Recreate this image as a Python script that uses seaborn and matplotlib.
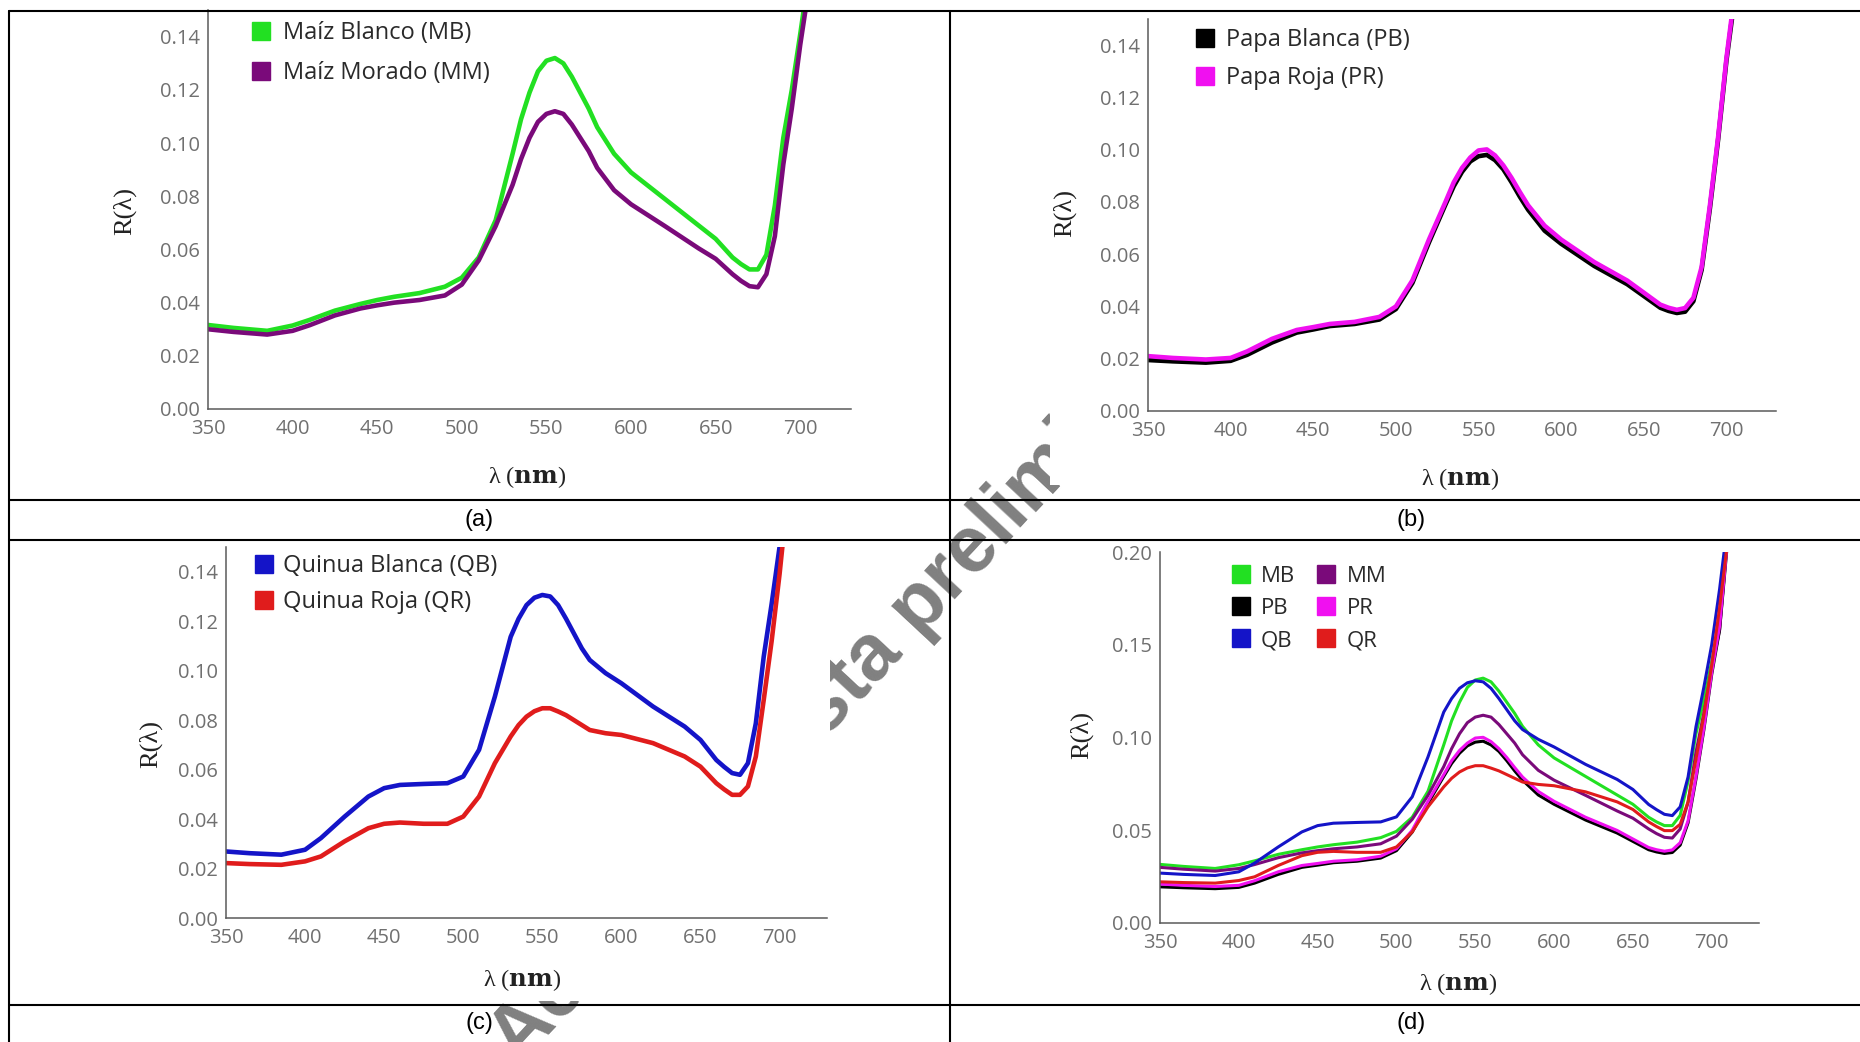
import numpy as np
import pandas as pd
import matplotlib
matplotlib.use("Agg")
import matplotlib.pyplot as plt
from matplotlib.lines import Line2D
from matplotlib.patches import Rectangle
from matplotlib.ticker import MultipleLocator, FormatStrFormatter
import seaborn as sns

sns.set_theme(style="white")
plt.rcParams['font.family'] = ['Open Sans', 'DejaVu Sans']
plt.rcParams['mathtext.fontset'] = 'dejavuserif'

# ---------------- data ----------------
wavelength = [350, 365, 385, 400, 410, 425, 440, 450, 460, 475, 490, 500, 510, 520,
              530, 535, 540, 545, 550, 555, 560, 565, 570, 575, 580, 590, 600, 620,
              640, 650, 660, 665, 670, 675, 680, 685, 690, 695, 700, 705, 710]

MB = [.0316, .0305, .0294, .0314, .0335, .0370, .0395, .0410, .0422, .0436, .0460, .0494,
      .0570, .0710, .0960, .1090, .1190, .1270, .1310, .1320, .1300, .1250, .1190, .1130,
      .1060, .0960, .0890, .0790, .0690, .0640, .0570, .0545, .0525, .0525, .0580, .0765,
      .1020, .1200, .1410, .1630, .2100]
MM = [.0300, .0290, .0280, .0294, .0315, .0352, .0378, .0390, .0400, .0410, .0427, .0468,
      .0559, .0688, .0843, .0940, .1020, .1080, .1110, .1120, .1110, .1070, .1020, .0970,
      .0907, .0823, .0770, .0688, .0604, .0565, .0507, .0482, .0462, .0458, .0507, .0650,
      .0920, .1130, .1370, .1580, .2080]
PB = [.0195, .0190, .0185, .0192, .0215, .0262, .0300, .0312, .0325, .0333, .0350, .0390,
      .0490, .0645, .0790, .0860, .0915, .0955, .0975, .0980, .0960, .0925, .0875, .0820,
      .0770, .0690, .0640, .0555, .0485, .0440, .0395, .0383, .0375, .0380, .0420, .0540,
      .0775, .1040, .1340, .1580, .2050]
PR = [.0210, .0203, .0197, .0203, .0228, .0276, .0310, .0321, .0333, .0341, .0360, .0400,
      .0500, .0656, .0800, .0875, .0930, .0970, .0997, .1001, .0978, .0940, .0892, .0838,
      .0787, .0709, .0656, .0570, .0499, .0453, .0407, .0395, .0387, .0394, .0433, .0551,
      .0787, .1050, .1350, .1600, .2060]
QB = [.0269, .0262, .0256, .0276, .0323, .0410, .0491, .0525, .0538, .0542, .0545, .0572,
      .0680, .0895, .1137, .1210, .1265, .1295, .1306, .1300, .1265, .1210, .1150, .1090,
      .1043, .0990, .0949, .0855, .0774, .0720, .0639, .0611, .0586, .0579, .0626, .0787,
      .1057, .1270, .1500, .1800, .2150]
QR = [.0222, .0218, .0215, .0229, .0249, .0310, .0363, .0381, .0386, .0381, .0381, .0410,
      .0491, .0626, .0734, .0780, .0814, .0836, .0848, .0848, .0835, .0820, .0800, .0780,
      .0760, .0747, .0740, .0707, .0653, .0612, .0545, .0520, .0498, .0498, .0532, .0653,
      .0882, .1120, .1390, .1700, .2050]

codes = ["MB", "MM", "PB", "PR", "QB", "QR"]
full_names = {"MB": "Maíz Blanco (MB)", "MM": "Maíz Morado (MM)",
              "PB": "Papa Blanca (PB)", "PR": "Papa Roja (PR)",
              "QB": "Quinua Blanca (QB)", "QR": "Quinua Roja (QR)"}
colors = {"MB": "#22e022", "MM": "#7a0a7a", "PB": "#000000",
          "PR": "#f010f0", "QB": "#1414c8", "QR": "#e01c1c"}
x_ticks = [350, 400, 450, 500, 550, 600, 650, 700]
panel_labels = ["(a)", "(b)", "(c)", "(d)"]

series = {"MB": MB, "MM": MM, "PB": PB, "PR": PR, "QB": QB, "QR": QR}
df = pd.concat([pd.DataFrame({"wl": wavelength, "R": series[c], "serie": c}) for c in codes],
               ignore_index=True)

# ---------------- figure ----------------
W, H = 1860, 1042
fig = plt.figure(figsize=(W / 100, H / 100), dpi=100)
fig.patch.set_facecolor("white")


def fx(x):
    return x / W


def fy(y):
    return 1 - y / H


# watermark (behind the panel "images")
fig.text(fx(520), fy(1066), "Aceptado vista preliminar", rotation=47,
         rotation_mode="anchor", ha="left", va="baseline", fontsize=57,
         fontweight="bold", family=["Liberation Sans", "DejaVu Sans"],
         color="#808080", zorder=0.5)

# white "image" areas that hide the watermark
for (x0, y0, x1, y1) in [(100, 11, 880, 495), (1050, 11, 1860, 485),
                         (100, 545, 830, 1001), (1063, 545, 1860, 1001)]:
    fig.patches.append(Rectangle((fx(x0), fy(y1)), fx(x1) - fx(x0), fy(y0) - fy(y1),
                                 transform=fig.transFigure, facecolor="white",
                                 edgecolor="none", zorder=0.8))

AX_COL = "#5a5a5a"


def panel(box, names, ytop, ymaj, ymin, lw):
    l, r, t, b = box
    ax = fig.add_axes([fx(l), fy(b), fx(r) - fx(l), fy(t) - fy(b)])
    ax.set_zorder(1)
    ax.set_facecolor("none")
    sub = df[df["serie"].isin(names)]
    sns.lineplot(data=sub, x="wl", y="R", hue="serie", hue_order=names,
                 palette=colors, linewidth=lw, legend=False, errorbar=None, ax=ax)
    for ln in ax.get_lines():
        ln.set_solid_joinstyle("round")
        ln.set_solid_capstyle("round")
    ax.set_xlim(350, 730)
    ax.set_ylim(0, ytop)
    ax.set_xticks(x_ticks)
    ax.xaxis.set_minor_locator(MultipleLocator(10))
    ax.yaxis.set_major_locator(MultipleLocator(ymaj))
    ax.yaxis.set_minor_locator(MultipleLocator(ymin))
    ax.yaxis.set_major_formatter(FormatStrFormatter("%.2f"))
    for s in ["top", "right"]:
        ax.spines[s].set_visible(False)
    for s in ["left", "bottom"]:
        ax.spines[s].set_color(AX_COL)
        ax.spines[s].set_linewidth(1.1)
    ax.tick_params(which="major", direction="in", length=5.5, width=1.0,
                   color=AX_COL, labelcolor="#707070", labelsize=14.5)
    ax.tick_params(which="minor", direction="in", length=3, width=0.9, color=AX_COL)
    ax.tick_params(axis="x", which="major", pad=7.5)
    ax.tick_params(axis="y", which="major", pad=6)
    ax.set_xlabel("")
    ax.set_ylabel("")
    return ax


axA = panel((208, 851, 10.2, 409), ["MB", "MM"], 0.15, 0.02, 0.004, 3.3)
axB = panel((1148, 1776, 19, 411), ["PB", "PR"], 0.15, 0.02, 0.004, 3.3)
axC = panel((226, 827, 547, 918), ["QB", "QR"], 0.15, 0.02, 0.004, 3.3)
axD = panel((1160, 1759, 552, 923), codes, 0.20, 0.05, 0.01, 2.2)


def add_legend(ax, names, left, top, spacing, pad, fs, ncol=1, colsp=1.0):
    handles = [Line2D([], [], marker="s", linestyle="none", markersize=12.5,
                      markerfacecolor=colors[n], markeredgecolor=colors[n])
               for n in names]
    labels = [full_names[n] if ncol == 1 else n for n in names]
    ax.legend(handles, labels, loc="upper left",
              bbox_to_anchor=(fx(left), fy(top)), bbox_transform=fig.transFigure,
              frameon=False, borderpad=0, borderaxespad=0, handlelength=1.0,
              handletextpad=pad, labelspacing=spacing, fontsize=fs, ncol=ncol,
              columnspacing=colsp, labelcolor="#2a2a2a")


add_legend(axA, ["MB", "MM"], 249, 21.2, 0.68, 0.45, 17)
add_legend(axB, ["PB", "PR"], 1193, 28.5, 0.58, 0.40, 17)
add_legend(axC, ["QB", "QR"], 252, 554.5, 0.50, 0.32, 17)
add_legend(axD, ["MB", "PB", "QB", "MM", "PR", "QR"], 1230, 565.5, 0.51, 0.4, 16,
           ncol=2, colsp=0.9)

# axis labels
ylab_pos = [(124.5, 211), (1065, 213), (150.6, 744), (1082, 735)]
xlab_pos = [(527, 477), (1460, 479), (522, 980), (1458, 984)]
for (x, y) in ylab_pos:
    fig.text(fx(x), fy(y), "R(λ)", rotation=90, ha="center", va="center",
             fontsize=19, family=["Liberation Serif", "DejaVu Serif"],
             color="#222222", zorder=3)
for (x, y) in xlab_pos:
    fig.text(fx(x), fy(y), r"λ ($\mathbf{nm}$)", ha="center", va="center",
             fontsize=17.5, family=["Liberation Serif", "DejaVu Serif"],
             color="#222222", zorder=3)

# panel captions
cap_pos = [(479, 520), (1411, 520), (479, 1023), (1411, 1023)]
for lab, (x, y) in zip(panel_labels, cap_pos):
    fig.text(fx(x), fy(y), lab, ha="center", va="center", fontsize=17,
             family=["Liberation Sans", "DejaVu Sans"], color="black", zorder=3)


# table rules
def hline(y, x0=9, x1=1860):
    fig.lines.append(Line2D([fx(x0), fx(x1)], [fy(y), fy(y)], transform=fig.transFigure,
                            color="black", linewidth=1.5, zorder=3))


def vline(x, y0=11, y1=1042):
    fig.lines.append(Line2D([fx(x), fx(x)], [fy(y0), fy(y1)], transform=fig.transFigure,
                            color="black", linewidth=1.5, zorder=3))


for y in [11, 500, 540, 1005]:
    hline(y)
for x in [9, 950]:
    vline(x)

fig.savefig("out.png", dpi=100, facecolor="white")
